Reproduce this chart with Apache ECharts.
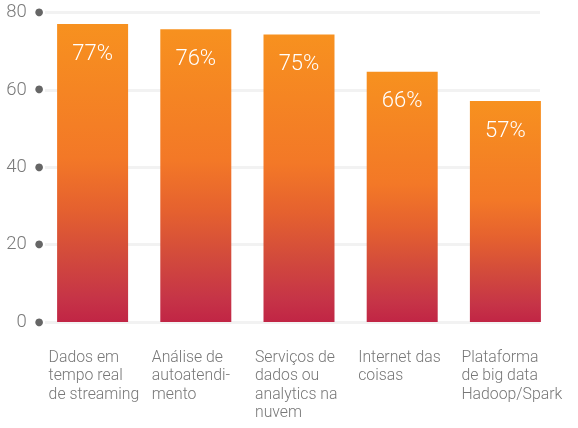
<!DOCTYPE html>
<html>
<head>
<meta charset="utf-8">
<script src="https://cdn.jsdelivr.net/npm/echarts@6/dist/echarts.min.js"></script>
<style>
html,body{margin:0;padding:0;background:#fff;}
#chart{width:578px;height:428px;}
</style>
</head>
<body>
<div id="chart"></div>
<script>
// Data
var categories = [
  'Dados em\ntempo real\nde streaming',
  'Análise de\nautoatendi-\nmento',
  'Serviços de\ndados ou\nanalytics na\nnuvem',
  'Internet das\ncoisas',
  'Plataforma\nde big data\nHadoop/Spark'
];
var barValues = [77, 75.7, 74.3, 64.7, 57.1];
var barLabels = ['77%', '76%', '75%', '66%', '57%'];
var yTicks = [0, 20, 40, 60, 80];

var FONT = 'Roboto';
var chart = echarts.init(document.getElementById('chart'), null, {renderer: 'canvas'});

var grad = new echarts.graphic.LinearGradient(0, 0, 0, 1, [
  {offset: 0, color: '#F7911F'},
  {offset: 0.45, color: '#F37827'},
  {offset: 0.62, color: '#E5612F'},
  {offset: 0.78, color: '#D24A3C'},
  {offset: 0.92, color: '#C63447'},
  {offset: 1, color: '#C12545'}
]);

chart.setOption({
  animation: false,
  backgroundColor: '#ffffff',
  grid: [
    {left: 41, right: 21, top: 12.5, bottom: 106, containLabel: false},
    {left: 45, right: 38, top: 12.5, bottom: 106, containLabel: false}
  ],
  xAxis: [
    {
      type: 'category', gridIndex: 0, data: categories,
      axisLine: {show: false}, axisTick: {show: false},
      axisLabel: {
        interval: 0, margin: 27, align: 'center', verticalAlign: 'top',
        formatter: function (v) {
          return v.split('\n').map(function (l) { return '{a|' + l + '}'; }).join('\n');
        },
        rich: {
          a: {width: 88, align: 'left', fontSize: 15.8, lineHeight: 18.3, color: '#777777', fontFamily: FONT, fontWeight: 300}
        }
      }
    },
    {type: 'value', gridIndex: 1, show: false, min: 0, max: 1}
  ],
  yAxis: [
    {type: 'value', gridIndex: 0, min: yTicks[0], max: yTicks[yTicks.length - 1], interval: 20, show: false},
    {
      type: 'value', gridIndex: 1, min: yTicks[0], max: yTicks[yTicks.length - 1], interval: 20,
      axisLine: {show: false}, axisTick: {show: false},
      splitLine: {show: true, lineStyle: {color: '#F2F2F2', width: 3}},
      axisLabel: {
        margin: 1.5,
        formatter: function (v) { return '{v|' + v + '}{d|●}'; },
        rich: {
          v: {fontSize: 18.5, color: '#7a7a7a', fontFamily: FONT, fontWeight: 300},
          d: {fontSize: 10, color: '#666666', padding: [0, 0, 0, 8], fontFamily: 'DejaVu Sans'}
        }
      }
    }
  ],
  series: [{
    type: 'bar', xAxisIndex: 0, yAxisIndex: 0,
    data: barValues, barWidth: 71,
    itemStyle: {color: grad},
    z: 5,
    label: {
      show: true, position: 'insideTop', distance: 19,
      formatter: function (p) { return barLabels[p.dataIndex]; },
      color: '#ffffff', fontSize: 22, fontFamily: FONT, fontWeight: 300
    }
  }]
});
</script>
</body>
</html>
